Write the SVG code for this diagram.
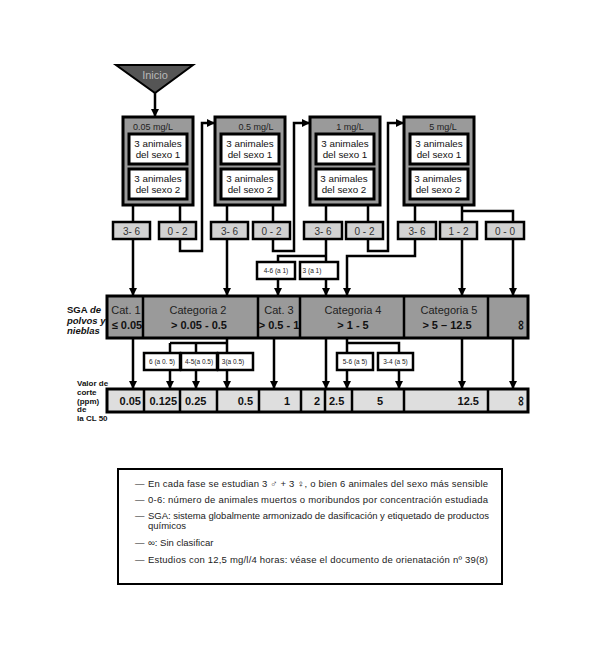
<svg xmlns="http://www.w3.org/2000/svg" width="600" height="656" viewBox="0 0 600 656">
<defs>
<marker id="ah" viewBox="0 0 8 8" refX="8" refY="4" markerWidth="8" markerHeight="8" markerUnits="userSpaceOnUse" orient="auto"><path d="M0,0 L8,4 L0,8 z" fill="#000"/></marker>
</defs>
<style>
text{font-family:"Liberation Sans",Arial,Helvetica,sans-serif;fill:#222}
.ln{stroke:#000;stroke-width:2.5;fill:none}
.ar{marker-end:url(#ah)}
.cbox{fill:#9a9a9a;stroke:#000;stroke-width:3}
.wbox{fill:#fff;stroke:#000;stroke-width:3}
.rbox{fill:#d2d2d2;stroke:#000;stroke-width:2.5}
.sbox{fill:#fff;stroke:#000;stroke-width:2.5}
.band{fill:#9a9a9a;stroke:#000;stroke-width:3}
.cut{fill:#dedede;stroke:#000;stroke-width:3}
.div{stroke:#000;stroke-width:2.5}
.cl{font-size:9px;text-anchor:middle;fill:#222}
.an{font-size:9.8px;text-anchor:middle;fill:#111}
.rt{font-size:10px;text-anchor:middle;fill:#333}
.st{font-size:6.5px;text-anchor:middle;fill:#222}
.b1{font-size:11px;text-anchor:middle;fill:#222}
.b2{font-size:11px;text-anchor:middle;font-weight:bold;fill:#111}
.cv{font-size:11px;font-weight:bold;fill:#111}
.inf{font-size:14px;font-weight:bold;text-anchor:middle;fill:#111}
.lab{font-size:9.5px;font-weight:bold;fill:#111}
.lab2{font-size:8px;font-weight:bold;fill:#111}
.lg{font-size:9.5px;fill:#222}
</style>

<g id="connectors">
<path class="ln ar" d="M155,93 V117"/>
<path class="ln" d="M133,205 V222 M180,205 V222"/>
<path class="ln ar" d="M133,239 V296"/>
<path class="ln ar" d="M180,239 V251 H202 V123 H215"/>
<path class="ln" d="M227,205 V222 M273,205 V222"/>
<path class="ln ar" d="M227,239 V296"/>
<path class="ln ar" d="M273,239 V251 H294 V123 H310"/>
<path class="ln" d="M326,205 V222 M368,205 V222"/>
<path class="ln" d="M326,239 V262 M326,256 H278 V262"/>
<path class="ln ar" d="M278,279 V296"/>
<path class="ln ar" d="M326,279 V296"/>
<path class="ln ar" d="M368,239 V251 H388 V123 H404"/>
<path class="ln" d="M415,205 V222 M462,205 V222 M462,211 H513 V222"/>
<path class="ln ar" d="M415,239 V256 H347 V296"/>
<path class="ln ar" d="M462,239 V296"/>
<path class="ln ar" d="M513,239 V296"/>
<path class="ln ar" d="M133,338 V389"/>
<path class="ln" d="M227,338 V353 M170,343 H228 M170,343 V353 M196,343 V353"/>
<path class="ln ar" d="M170,370 V389"/>
<path class="ln ar" d="M196,370 V389"/>
<path class="ln ar" d="M227,370 V389"/>
<path class="ln ar" d="M274,338 V389"/>
<path class="ln ar" d="M326,338 V389"/>
<path class="ln" d="M347,338 V353 M346,343 H399 V353"/>
<path class="ln ar" d="M347,370 V389"/>
<path class="ln ar" d="M399,370 V389"/>
<path class="ln ar" d="M462,338 V389"/>
<path class="ln ar" d="M513,338 V389"/>
</g>

<g id="inicio">
<polygon points="116,65 193,65 155,93" fill="#555" stroke="#000" stroke-width="2"/>
<text x="155" y="79" font-size="11" text-anchor="middle" style="fill:#b8b8b8">Inicio</text>
</g>

<g id="conc1">
<rect class="cbox" x="123" y="117" width="70" height="88"/>
<text class="cl" x="153" y="130">0.05 mg/L</text>
<rect class="wbox" x="129" y="134" width="58" height="30"/>
<text class="an" x="158" y="147">3 animales</text>
<text class="an" x="158" y="158">del sexo 1</text>
<rect class="wbox" x="129" y="169" width="58" height="30"/>
<text class="an" x="158" y="182">3 animales</text>
<text class="an" x="158" y="193">del sexo 2</text>
</g>
<g id="conc2">
<rect class="cbox" x="215" y="117" width="70" height="88"/>
<text class="cl" x="256" y="130">0.5 mg/L</text>
<rect class="wbox" x="221" y="134" width="58" height="30"/>
<text class="an" x="250" y="147">3 animales</text>
<text class="an" x="250" y="158">del sexo 1</text>
<rect class="wbox" x="221" y="169" width="58" height="30"/>
<text class="an" x="250" y="182">3 animales</text>
<text class="an" x="250" y="193">del sexo 2</text>
</g>
<g id="conc3">
<rect class="cbox" x="310" y="117" width="70" height="88"/>
<text class="cl" x="350" y="130">1 mg/L</text>
<rect class="wbox" x="316" y="134" width="58" height="30"/>
<text class="an" x="345" y="147">3 animales</text>
<text class="an" x="345" y="158">del sexo 1</text>
<rect class="wbox" x="316" y="169" width="58" height="30"/>
<text class="an" x="344" y="182">3 animales</text>
<text class="an" x="344" y="193">del sexo 2</text>
</g>
<g id="conc4">
<rect class="cbox" x="404" y="117" width="70" height="88"/>
<text class="cl" x="443" y="130">5 mg/L</text>
<rect class="wbox" x="410" y="134" width="58" height="30"/>
<text class="an" x="439" y="147">3 animales</text>
<text class="an" x="439" y="158">del sexo 1</text>
<rect class="wbox" x="410" y="169" width="58" height="30"/>
<text class="an" x="438" y="182">3 animales</text>
<text class="an" x="438" y="193">del sexo 2</text>
</g>

<g id="r1"><rect class="rbox" x="113" y="222" width="37" height="17"/><text class="rt" x="131.5" y="234.5">3- 6</text></g>
<g id="r2"><rect class="rbox" x="159" y="222" width="37" height="17"/><text class="rt" x="177.5" y="234.5">0 - 2</text></g>
<g id="r3"><rect class="rbox" x="211" y="222" width="37" height="17"/><text class="rt" x="229.5" y="234.5">3- 6</text></g>
<g id="r4"><rect class="rbox" x="253" y="222" width="37" height="17"/><text class="rt" x="271.5" y="234.5">0 - 2</text></g>
<g id="r5"><rect class="rbox" x="304" y="222" width="38" height="17"/><text class="rt" x="323" y="234.5">3- 6</text></g>
<g id="r6"><rect class="rbox" x="346" y="222" width="37" height="17"/><text class="rt" x="364.5" y="234.5">0 - 2</text></g>
<g id="r7"><rect class="rbox" x="398" y="222" width="38" height="17"/><text class="rt" x="417" y="234.5">3- 6</text></g>
<g id="r8"><rect class="rbox" x="440" y="222" width="37" height="17"/><text class="rt" x="458.5" y="234.5">1 - 2</text></g>
<g id="r9"><rect class="rbox" x="486" y="222" width="38" height="17"/><text class="rt" x="505" y="234.5">0 - 0</text></g>

<g id="a1a"><rect class="sbox" x="257" y="262" width="38" height="17"/><text class="st" x="276" y="273">4-6 (a 1)</text></g>
<g id="a1b"><rect class="sbox" x="300" y="262" width="38" height="17"/><text class="st" x="312" y="273">3 (a 1)</text></g>

<g id="sga-label">
<text class="lab" x="67" y="313">SGA <tspan font-style="italic">de</tspan></text>
<text class="lab" x="67" y="323.5" font-style="italic">polvos y</text>
<text class="lab" x="67" y="334" font-style="italic">nieblas</text>
</g>

<g id="sga-band">
<rect class="band" x="107" y="296" width="421" height="42"/>
<path class="div" d="M143,296 V338 M258,296 V338 M300,296 V338 M404,296 V338 M488,296 V338"/>
<text class="b1" x="126" y="314">Cat. 1</text>
<text class="b2" x="127" y="329">≤ 0.05</text>
<text class="b1" x="198" y="314">Categoria 2</text>
<text class="b2" x="199" y="329">&gt; 0.05 -  0.5</text>
<text class="b1" x="279" y="314">Cat. 3</text>
<text class="b2" x="279" y="329" font-size="10.5">&gt; 0.5 - 1</text>
<text class="b1" x="353" y="314">Categoria 4</text>
<text class="b2" x="353" y="329">&gt; 1 - 5</text>
<text class="b1" x="449" y="314">Categoria 5</text>
<text class="b2" x="447" y="329">&gt; 5 – 12.5</text>
<text class="inf" x="0" y="0" transform="translate(520,325) rotate(-90)" dy="5">∞</text>
</g>

<g id="sa1"><rect class="sbox" x="144" y="353" width="36" height="17"/><text class="st" x="162" y="364">6 (a 0. 5)</text></g>
<g id="sa2"><rect class="sbox" x="181" y="353" width="36" height="17"/><text class="st" x="199" y="364">4-5(a 0.5)</text></g>
<g id="sa3"><rect class="sbox" x="218" y="353" width="35" height="17"/><text class="st" x="233" y="364">3(a 0.5)</text></g>
<g id="sb1"><rect class="sbox" x="337" y="353" width="36" height="17"/><text class="st" x="355" y="364">5-6 (a 5)</text></g>
<g id="sb2"><rect class="sbox" x="378" y="353" width="35" height="17"/><text class="st" x="395.5" y="364">3-4 (a 5)</text></g>

<g id="cut-label">
<text class="lab2" x="77" y="386">Valor de</text>
<text class="lab2" x="77" y="394.8">corte</text>
<text class="lab2" x="77" y="403.6">(ppm)</text>
<text class="lab2" x="77" y="412.4">de</text>
<text class="lab2" x="77" y="421.2">la CL 50</text>
</g>

<g id="cutoff">
<rect class="cut" x="107" y="389" width="421" height="23"/>
<path class="div" d="M144,389 V412 M180,389 V412 M217,389 V412 M259,389 V412 M301,389 V412 M325,389 V412 M352,389 V412 M404,389 V412 M488,389 V412"/>
<text class="cv" x="141" y="405" text-anchor="end">0.05</text>
<text class="cv" x="177" y="405" text-anchor="end">0.125</text>
<text class="cv" x="185" y="405">0.25</text>
<text class="cv" x="253" y="405" text-anchor="end">0.5</text>
<text class="cv" x="287" y="405" text-anchor="middle">1</text>
<text class="cv" x="320" y="405" text-anchor="end">2</text>
<text class="cv" x="329" y="405">2.5</text>
<text class="cv" x="380" y="405" text-anchor="middle">5</text>
<text class="cv" x="479" y="405" text-anchor="end">12.5</text>
<text class="inf" x="0" y="0" transform="translate(520,401) rotate(-90)" dy="5">∞</text>
</g>

<g id="legend">
<rect x="118" y="469" width="384" height="115" fill="#fff" stroke="#000" stroke-width="2"/>
<text class="lg" x="135" y="487">—</text>
<text class="lg" x="148" y="487" textLength="340" lengthAdjust="spacing">En cada fase se estudian 3 ♂ + 3 ♀, o bien 6 animales del sexo más sensible</text>
<text class="lg" x="135" y="503">—</text>
<text class="lg" x="148" y="503" textLength="340" lengthAdjust="spacing">0-6: número de animales muertos o moribundos por concentración estudiada</text>
<text class="lg" x="135" y="519">—</text>
<text class="lg" x="148" y="519" textLength="341" lengthAdjust="spacing">SGA: sistema globalmente armonizado de dasificación y etiquetado de productos</text>
<text class="lg" x="148" y="529">químicos</text>
<text class="lg" x="135" y="546">—</text>
<text class="lg" x="148" y="546">∞: Sin clasificar</text>
<text class="lg" x="135" y="563">—</text>
<text class="lg" x="148" y="563" textLength="340" lengthAdjust="spacing">Estudios con 12,5 mg/l/4 horas: véase el documento de orienatación nº 39(8)</text>
</g>
</svg>
